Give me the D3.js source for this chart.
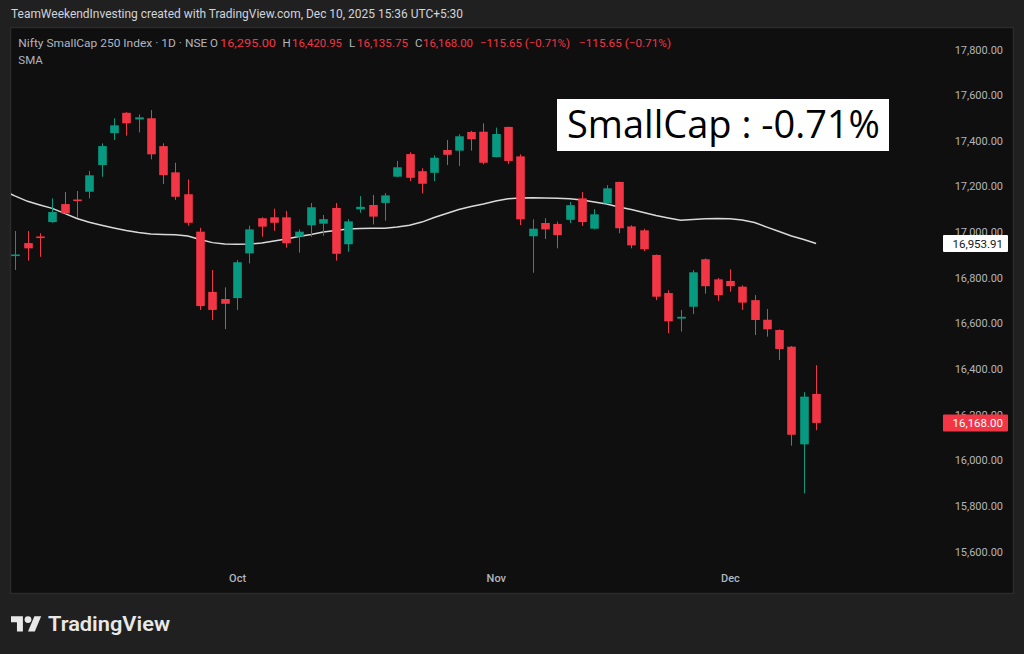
<!DOCTYPE html>
<html>
<head>
<meta charset="utf-8">
<script src="https://cdn.jsdelivr.net/npm/d3@7"></script>
<style>
  html, body { margin: 0; padding: 0; background: #202020; }
  svg { display: block; }
</style>
</head>
<body>
<svg id="chart" width="1024" height="654"></svg>
<script>
// ---------- DATA ----------
const dates = [
  "2025-09-05","2025-09-08","2025-09-09","2025-09-10","2025-09-11","2025-09-12",
  "2025-09-15","2025-09-16","2025-09-17","2025-09-18","2025-09-19",
  "2025-09-22","2025-09-23","2025-09-24","2025-09-25","2025-09-26",
  "2025-09-29","2025-09-30",
  "2025-10-01","2025-10-03","2025-10-06","2025-10-07","2025-10-08","2025-10-09","2025-10-10",
  "2025-10-13","2025-10-14","2025-10-15","2025-10-16","2025-10-17",
  "2025-10-20","2025-10-21","2025-10-23","2025-10-24",
  "2025-10-27","2025-10-28","2025-10-29","2025-10-30","2025-10-31",
  "2025-11-03","2025-11-04","2025-11-06","2025-11-07",
  "2025-11-10","2025-11-11","2025-11-12","2025-11-13","2025-11-14",
  "2025-11-17","2025-11-18","2025-11-19","2025-11-20","2025-11-21",
  "2025-11-24","2025-11-25","2025-11-26","2025-11-27","2025-11-28",
  "2025-12-01","2025-12-02","2025-12-03","2025-12-04","2025-12-05",
  "2025-12-08","2025-12-09","2025-12-10"
];
const opens = [16900,16956,16985,17048,17127,17147,17181,17298,17438,17527,17498,17503,17381,17266,17170,17006,16742,16711,
  16715,16911,17065,17069,17069,16984,17034,17041,17110,16951,17104,17123,17132,17247,17346,17271,17264,17364,17361,17443,17444,
  17333,17465,17336,16986,17044,17040,17058,17152,17019,17130,17224,17029,17012,16904,16737,16625,16677,16885,16797,
  16790,16765,16706,16620,16575,16502,16074,16295.00];
const highs = [17009,17009,16999,17152,17180,17184,17272,17393,17503,17530,17520,17539,17393,17308,17235,17023,16838,16762,
  16882,17032,17069,17107,17097,17016,17132,17079,17132,17061,17162,17167,17175,17316,17354,17284,17341,17408,17433,17448,17481,
  17462,17466,17345,17060,17065,17050,17136,17180,17105,17210,17225,17034,17019,16906,16749,16663,16838,16889,16803,
  16841,16771,16728,16667,16578,16505,16303,16420.95];
const lows = [16838,16879,16896,17045,17079,17067,17152,17247,17408,17427,17441,17323,17215,17145,17032,16663,16619,16579,
  16663,16867,16984,17010,16936,16914,16984,16988,16879,16918,17089,17038,17054,17245,17228,17174,17228,17298,17294,17361,17301,
  17332,17302,17035,16826,16974,16933,17044,17031,17016,17128,16999,16933,16921,16706,16561,16568,16645,16734,16703,
  16743,16663,16553,16546,16444,16068,15859,16135.75];
const closes = [16906,16933,16981,17092,17086,17143,17253,17381,17472,17481,17507,17345,17254,17159,17045,16680,16663,16690,
  16872,17016,17028,17045,16955,17006,17113,17061,16909,17051,17115,17072,17165,17288,17242,17216,17330,17343,17424,17411,17308,
  17434,17316,17060,17019,17016,16991,17122,17048,17082,17196,17021,16946,16929,16721,16613,16633,16828,16767,16728,
  16767,16695,16619,16578,16492,16116,16283,16168.00];
// SMA value for the trading day just before the first visible candle (off-screen)
const smaPrevDay = 17187;
const sma = [17162,17139,17123,17108,17086,17064,17047,17034,17022,17011,17002,16996,16994,16993,16987,16972,16958,16952,
  16951,16952,16956,16965,16974,16985,16994,17005,17011,17018,17020,17021,17021,17026,17034,17048,17068,17086,17103,17116,17127,
  17140,17150,17154,17155,17154,17152,17150,17145,17136,17127,17114,17103,17090,17077,17066,17056,17059,17063,17064,
  17063,17057,17046,17026,17007,16987,16972,16953.91];
const priceTicks = [15600,15800,16000,16200,16400,16600,16800,17000,17200,17400,17600,17800];
const monthTickDates = ["2025-10-01","2025-11-03","2025-12-01"];
const monthTickLabels = ["Oct","Nov","Dec"];
const prevClose = 16283.65;
const headerText = "TeamWeekendInvesting created with TradingView.com, Dec 10, 2025 15:36 UTC+5:30";
const symbolText = "Nifty SmallCap 250 Index \u00b7 1D \u00b7 NSE";
const indicatorText = "SMA";
const annotationText = "SmallCap : -0.71%";
const brandText = "TradingView";

// ---------- SETUP ----------
const RED = "#f23645", GREEN = "#089981";
const FONT = "Roboto, 'Noto Sans', sans-serif";
const svg = d3.select("#chart");
const fmt = d3.format(",.2f");

// background & pane
svg.append("rect").attr("x",0).attr("y",0).attr("width",1024).attr("height",654).attr("fill","#202020");
svg.append("rect").attr("x",10.5).attr("y",27.5).attr("width",1003).attr("height",566)
  .attr("fill","#0f0f0f").attr("stroke","#2b2b2b").attr("stroke-width",1.5);

const x = d3.scalePoint().domain(dates).range([15.3, 816.1]);
const y = d3.scaleLinear().domain([15600, 17800]).range([552.5, 50.5]);

svg.append("defs").append("clipPath").attr("id","plotClip")
  .append("rect").attr("x",11).attr("y",28).attr("width",928).attr("height",538);

const plot = svg.append("g").attr("clip-path","url(#plotClip)");

// SMA line
const smaPts = [{x: x(dates[0]) - x.step(), v: smaPrevDay}].concat(sma.map((v,i)=>({x: x(dates[i]), v})));
plot.append("path").datum(smaPts)
  .attr("fill","none").attr("stroke","#d9d9d9").attr("stroke-width",1.5)
  .attr("d", d3.line().x(d=>d.x).y(d=>y(d.v)).curve(d3.curveLinear));

// candles
const candles = dates.map((d,i)=>({d, o:opens[i], h:highs[i], l:lows[i], c:closes[i]}));
const bw = 8.6;
const cg = plot.selectAll("g.candle").data(candles).join("g").attr("class","candle");
cg.append("line")
  .attr("x1", d=>Math.round(x(d.d))+0.5).attr("x2", d=>Math.round(x(d.d))+0.5)
  .attr("y1", d=>y(d.h)).attr("y2", d=>y(d.l))
  .attr("stroke", d=> d.c>=d.o ? GREEN : RED).attr("stroke-width",1);
cg.append("rect")
  .attr("x", d=>Math.round(x(d.d))+0.5 - bw/2)
  .attr("width", bw)
  .attr("y", d=>y(Math.max(d.o,d.c)))
  .attr("height", d=>Math.max(1.6, y(Math.min(d.o,d.c)) - y(Math.max(d.o,d.c))))
  .attr("fill", d=> d.c>=d.o ? GREEN : RED);

// price axis
const axisG = svg.append("g").attr("transform","translate(1003,0)");
const yAxis = d3.axisRight(y).tickValues(priceTicks).tickFormat(fmt).tickSize(0).tickPadding(0);
axisG.call(yAxis);
axisG.select(".domain").remove();
axisG.selectAll("text").attr("text-anchor","end").attr("fill","#b2b5be")
  .attr("font-family",FONT).attr("font-size",11).attr("dy","0.32em").attr("dx",0)
  .attr("transform","translate(0,-1)");

// price labels (SMA last & close)
const lastSma = sma[sma.length-1], lastClose = closes[closes.length-1];
function priceTag(v, bg, fg){
  const g = svg.append("g");
  g.append("rect").attr("x",943).attr("y",y(v)-8.5).attr("width",65).attr("height",17).attr("fill",bg).attr("rx",1);
  g.append("text").attr("x",1003).attr("y",y(v)).attr("dy","0.35em").attr("text-anchor","end")
    .attr("font-family",FONT).attr("font-size",11.5).attr("fill",fg).text(fmt(v));
}
priceTag(lastSma, "#ffffff", "#131722");
priceTag(lastClose, RED, "#ffffff");

// time axis
const xAxis = d3.axisBottom(x).tickValues(monthTickDates)
  .tickFormat((d,i)=>monthTickLabels[i]).tickSize(0).tickPadding(0);
const xg = svg.append("g").attr("transform","translate(0,574)").call(xAxis);
xg.select(".domain").remove();
xg.selectAll("text").attr("fill","#b2b5be").attr("font-family",FONT).attr("font-size",11).attr("font-weight",500);

// header
svg.append("text").attr("x",11).attr("y",18).attr("fill","#d1d4dc")
  .attr("font-family",FONT).attr("font-size",12.5)
  .attr("textLength",452).attr("lengthAdjust","spacingAndGlyphs").text(headerText);

// legend
const lg = svg.append("g").attr("font-family",FONT).attr("font-size",11.5);
function lt(xp, txt, col, len){
  const t = lg.append("text").attr("x",xp).attr("y",47).attr("fill",col).text(txt);
  if(len) t.attr("textLength",len).attr("lengthAdjust","spacingAndGlyphs");
}
const last = candles[candles.length-1];
const chg = last.c - prevClose, pct = chg/prevClose*100;
const chgText = (chg<0?"\u2212":"+") + fmt(Math.abs(chg)) + " (" + (pct<0?"\u2212":"+") + Math.abs(pct).toFixed(2) + "%)";
lt(18.3, symbolText, "#b2b5be", 189);
lt(210, "O", "#b2b5be"); lt(220, fmt(last.o), RED, 56);
lt(282.5, "H", "#b2b5be"); lt(292, fmt(last.h), RED, 50);
lt(349, "L", "#b2b5be"); lt(357, fmt(last.l), RED, 51);
lt(415, "C", "#b2b5be"); lt(423, fmt(last.c), RED, 50);
lt(480, chgText, RED, 90);
lt(579, chgText, RED, 92);
svg.append("text").attr("x",18.3).attr("y",64).attr("fill","#b2b5be")
  .attr("font-family",FONT).attr("font-size",11.5).text(indicatorText);

// annotation box
svg.append("rect").attr("x",557).attr("y",99).attr("width",332).attr("height",52).attr("fill","#ffffff");
svg.append("text").attr("x",567).attr("y",138).attr("fill","#000000")
  .attr("font-family","'Open Sans', 'DejaVu Sans', sans-serif").attr("font-size",38)
  .attr("textLength",313).attr("lengthAdjust","spacingAndGlyphs").text(annotationText);

// TradingView brand
const logo = svg.append("g").attr("transform","translate(11,612.8) scale(0.85)").attr("fill","#e8e8e8");
logo.append("path").attr("d","M14 22H7V11H0V4h14v18z");
logo.append("path").attr("d","M28 22h-8l7.5-18h8L28 22z");
logo.append("circle").attr("cx",20).attr("cy",8).attr("r",4);
svg.append("text").attr("x",48).attr("y",631).attr("fill","#e8e8e8")
  .attr("font-family",FONT).attr("font-size",21).attr("font-weight",600)
  .attr("textLength",122).attr("lengthAdjust","spacingAndGlyphs").text(brandText);
</script>
</body>
</html>
